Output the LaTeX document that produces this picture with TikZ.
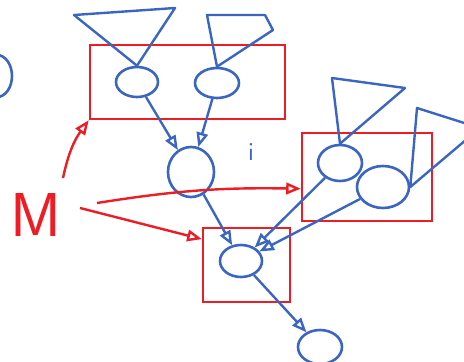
\documentclass[tikz,border=0pt]{standalone}
\usetikzlibrary{shapes.geometric, positioning, arrows}
\definecolor{inkblue}{HTML}{3A66C1}
\definecolor{inkred}{HTML}{EE1C25}
\tikzset{
>=open triangle 45, % hollow heads, as in the sketch
var/.style={ellipse, draw=inkblue, line width=2.6pt, minimum width=42pt, minimum height=30pt}, % a variable
plate/.style={rectangle, draw=inkred, line width=2.8pt}, % a red box round a group
link/.style={->, draw=inkblue, line width=2.4pt},
tree/.style={draw=inkblue, line width=2.4pt, line join=round}, % triangle standing for a subtree
cue/.style={->, draw=inkred, line width=2.4pt},
}
\begin{document}
\begin{tikzpicture}[x=1pt, y=-1pt]
\useasboundingbox (0,0) rectangle (464,362);

% plates
\node[plate, minimum width=195pt, minimum height=74pt] (ptop) at (187.5,82) {};
\node[plate, minimum width=130pt, minimum height=88pt] (pright) at (367,177) {};
\node[plate, minimum width=87pt, minimum height=74pt] (pbottom) at (246.5,265) {};

% variables
\node[var, minimum width=30pt, minimum height=42pt] (lft) at (-3,76) {};
\node[var] (a1) at (137,82) {};
\node[var, minimum width=44pt] (a2) at (217,83) {};
\node[var, minimum width=46pt, minimum height=50pt] (c) at (191,172) {};
\node[var, minimum width=44pt, minimum height=36pt] (b1) at (340,163) {};
\node[var, minimum width=52pt, minimum height=42pt] (b2) at (383,187) {};
\node[var, minimum height=32pt] (d) at (241,261) {};
\node[var, minimum width=44pt, minimum height=34pt] (e) at (320,347) {};

\node[text=inkblue, font=\fontsize{26}{26}\selectfont\sffamily] (idx) at (251,152) {i};
\node[text=inkred, font=\fontsize{62}{62}\selectfont\sffamily, inner sep=0pt] (m) at (36,215) {M};

% subtrees
\draw[tree] (74,15) -- (175,8) -- (a1.north) -- cycle;
\draw[tree] (207,15) -- (265,15) -- (273,30) -- (a2.north) -- cycle;
\draw[tree] (332,78) -- (405,88) -- (b1.north) -- cycle;
\draw[tree] (417,108) -- (480,128) -- (b2.east) -- cycle;

% edges
\draw[link] (a1) -- (c);
\draw[link] (a2) -- (c);
\draw[link] (c) -- (d);
\draw[link] (b1) -- (d);
\draw[link] (b2) -- (d);
\draw[link] (d) -- (e);

% M points at the plates
\coordinate (m0) at (63,178);
\coordinate (m1) at (97,203);
\coordinate (m2) at (80,208);
\draw[cue] (m0) to[bend left=12] (ptop.south west);
\draw[cue] (m1) to[bend left=5] (pright.190);
\draw[cue] (m2) -- (pbottom.150);
\end{tikzpicture}
\end{document}
